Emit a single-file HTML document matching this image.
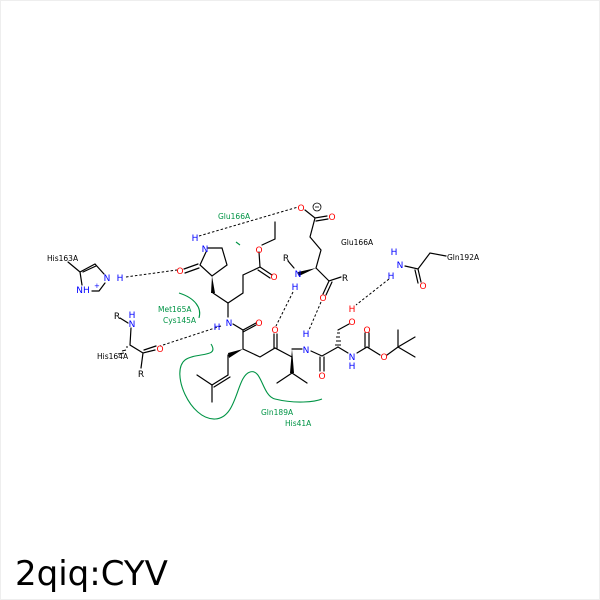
<!DOCTYPE html>
<html><head><meta charset="utf-8"><style>
html,body{margin:0;padding:0;background:#fff}
svg{display:block}
text{font-family:"DejaVu Sans","Liberation Sans",sans-serif}
</style></head><body>
<svg width="600" height="600" viewBox="0 0 600 600" xmlns="http://www.w3.org/2000/svg">
<rect x="0.5" y="0.5" width="599" height="599" fill="#fff" stroke="#eee"/>
<g stroke="#000" stroke-width="1.2" fill="none" stroke-linecap="round">
<path d="M208,248 L222,248 L227,265 L212,276 L200,265 L206,252"/>
<path d="M198,264 L184,269 M199,268 L185,273"/>
<path d="M213,293 L228,303 L243,293 L243,275 L260,267"/>
<path d="M260,267 L272,275 M258,270 L270,278"/>
<path d="M260,267 L259,252 M262,245 L275,239 L275,222"/>
<path d="M228,303 L228,317"/>
<path d="M233,324 L243,330 L256,323 M243,332 L256,325"/>
<path d="M243,330 L243,349 L260,357 L275,348 L292,357"/>
<path d="M274,348 L274,334 M277,348 L277,334"/>
<path d="M228,355 L228,375 L212,385 M230,377 L214,387"/>
<path d="M212,385 L197,375 M212,385 L212,402"/>
<path d="M292,373 L277,383 M292,373 L307,383"/>
<path d="M292,349 L302,349"/>
<path d="M311,351 L322,356 L338,347"/>
<path d="M320,357 L320,371 M324,357 L324,371"/>
<path d="M338,330 L349,324"/>
<path d="M338,347 L348,353 M357,353 L367,347 L380,355"/>
<path d="M365,347 L365,333 M369,347 L369,333"/>
<path d="M387,355 L398,347 L415,337 M398,347 L415,357 M398,347 L398,330"/>
<path d="M305,210 L315,218 L327,216 M316,221 L328,219 M315,218 L310,237 L321,250 L316,268"/>
<path d="M316,268 L329,281 L341,277 M329,281 L323,294 M332,282 L326,295"/>
<path d="M288,261 L294,268"/>
<path d="M405,266 L418,269 L430,253 L446,256 M418,269 L421,282 M415,270 L418,283"/>
<path d="M68,262 L80,272 L95,264 L104,274 M80,272 L82,285 M83,272 L96,266 M99,291 L105,283 M92,291 L99,291"/>
<path d="M120,318 L128,323 M131,328 L130,345 L143,353 L155,350 M143,353 L141,368 M144,350 L156,346"/>
</g>
<g fill="#000">
<polygon points="212,276 211,293 215,293"/>
<polygon points="243,349 228,353 229,358"/>
<polygon points="292,349 290,373 294,373"/>
<polygon points="316,268 298,272 299,276"/>
</g>
<g stroke="#000" stroke-width="1">
<path d="M337,333 L340,333 M336,337 L340,337 M336,341 L341,341 M335,345 L341,345"/>
<path d="M128,347 L126,347 M126,350 L122,351 M124,353 L118,354"/>
</g>
<g stroke="#000" stroke-width="1" stroke-dasharray="2.5,2" fill="none">
<path d="M199,236 L298,207"/>
<path d="M126,277 L177,270"/>
<path d="M221,326 L160,346"/>
<path d="M293,292 L276,326"/>
<path d="M321,302 L309,330"/>
<path d="M389,279 L356,305"/>
</g>
<g stroke="#009445" stroke-width="1.1" fill="none">
<path d="M179,293 C195,298 202,308 199,318"/>
<path d="M236,242 L240,245"/>
<path d="M211,344 C220,358 196,352 185,360 C170,372 190,420 215,419 C238,418 236,376 250,372 C262,368 262,396 275,399 C295,404 315,402 322,399"/>
</g>
<g font-size="7.5" fill="#009445">
<text x="218" y="219">Glu166A</text>
<text x="158" y="312">Met165A</text>
<text x="163" y="323">Cys145A</text>
<text x="261" y="415">Gln189A</text>
<text x="285" y="426">His41A</text>
</g>
<g font-size="7.5" fill="#000">
<text x="47" y="261">His163A</text>
<text x="97" y="359">His164A</text>
<text x="341" y="245">Glu166A</text>
<text x="447" y="260">Gln192A</text>
</g>
<g font-size="9" text-anchor="middle">
<text x="195" y="241" fill="#00f">H</text>
<text x="205" y="252" fill="#00f">N</text>
<text x="180" y="274" fill="#f00">O</text>
<text x="274" y="280" fill="#f00">O</text>
<text x="259" y="253" fill="#f00">O</text>
<text x="229" y="326" fill="#00f">N</text>
<text x="217" y="330" fill="#00f">H</text>
<text x="259" y="326" fill="#f00">O</text>
<text x="275" y="333" fill="#f00">O</text>
<text x="306" y="353" fill="#00f">N</text>
<text x="306" y="337" fill="#00f">H</text>
<text x="322" y="379" fill="#f00">O</text>
<text x="352" y="325" fill="#f00">O</text>
<text x="352" y="312" fill="#f00">H</text>
<text x="352" y="360" fill="#00f">N</text>
<text x="352" y="369" fill="#00f">H</text>
<text x="367" y="333" fill="#f00">O</text>
<text x="384" y="360" fill="#f00">O</text>
<text x="301" y="211" fill="#f00">O</text>
<text x="332" y="220" fill="#f00">O</text>
<text x="298" y="277" fill="#00f">N</text>
<text x="295" y="290" fill="#00f">H</text>
<text x="286" y="261" fill="#000">R</text>
<text x="345" y="281" fill="#000">R</text>
<text x="323" y="301" fill="#f00">O</text>
<text x="394" y="255" fill="#00f">H</text>
<text x="400" y="268" fill="#00f">N</text>
<text x="391" y="279" fill="#00f">H</text>
<text x="423" y="289" fill="#f00">O</text>
<text x="107" y="281" fill="#00f">N</text>
<text x="120" y="281" fill="#00f">H</text>
<text x="83" y="293" fill="#00f">NH</text>
<text x="117" y="319" fill="#000">R</text>
<text x="132" y="318" fill="#00f">H</text>
<text x="132" y="327" fill="#00f">N</text>
<text x="160" y="352" fill="#f00">O</text>
<text x="141" y="377" fill="#000">R</text>
</g>
<text x="94" y="288" font-size="7" fill="#00f">+</text>
<circle cx="317" cy="207" r="4" fill="none" stroke="#000" stroke-width="0.8"/>
<path d="M315,207 L319,207" stroke="#000" stroke-width="0.8"/>
<text x="15" y="585" font-size="34" fill="#000">2qiq:CYV</text>
</svg>
</body></html>
